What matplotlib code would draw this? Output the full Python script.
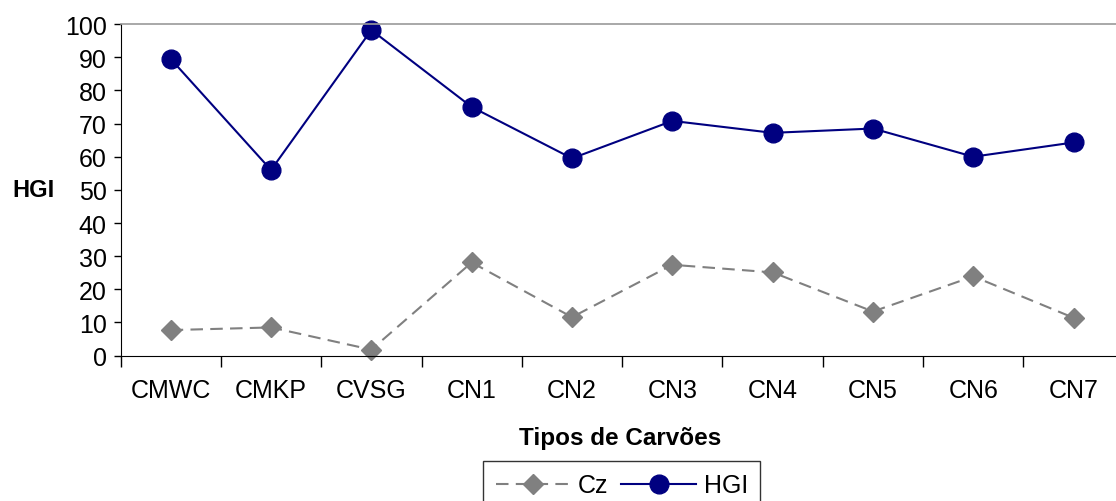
import matplotlib
matplotlib.use('Agg')
import matplotlib.pyplot as plt

# tipos de carvões e valores
carvoes = ['CMWC', 'CMKP', 'CVSG', 'CN1', 'CN2', 'CN3', 'CN4', 'CN5', 'CN6', 'CN7']
cz = [7.7, 8.5, 1.8, 28.1, 11.6, 27.4, 25.1, 13.3, 23.9, 11.4]
hgi = [89.5, 56.0, 98.2, 75.0, 59.5, 70.8, 67.2, 68.5, 60.0, 64.3]

plt.rcParams['font.family'] = ['Liberation Sans', 'DejaVu Sans']

fig = plt.figure(figsize=(11.16, 5.02), dpi=100)
ax = fig.add_axes([0.108, 0.2896, 0.899, 0.6604])

x = list(range(len(carvoes)))
ax.plot(x, cz, color='#808080', linestyle=(0, (6, 3.5)), linewidth=1.5,
        marker='D', markersize=10, label='Cz', clip_on=False)
ax.plot(x, hgi, color='#000080', linestyle='-', linewidth=1.5,
        marker='o', markersize=13.5, label='HGI', clip_on=False)

ax.set_xlim(-0.5, len(carvoes) - 0.5)
ax.set_ylim(0, 100)
ax.set_yticks(range(0, 101, 10))

# traits entre les catégories, étiquettes au centre
ax.set_xticks([i - 0.5 for i in range(len(carvoes) + 1)])
ax.set_xticklabels([])
ax.set_xticks(x, minor=True)
ax.set_xticklabels(carvoes, minor=True)
ax.tick_params(axis='x', which='major', length=8, width=1, direction='out')
ax.tick_params(axis='x', which='minor', length=0, pad=16, labelsize=18)
ax.tick_params(axis='y', length=5, width=1, pad=5, labelsize=18)

ax.spines['top'].set_color('#999999')
ax.spines['top'].set_linewidth(1.2)
ax.spines['right'].set_visible(False)

fig.text(0.03, 0.62, 'HGI', fontsize=17, fontweight='bold', ha='center', va='center')
fig.text(0.556, 0.127, 'Tipos de Carvões', fontsize=17.5, fontweight='bold', ha='center', va='center')

leg = fig.legend(loc='upper left', bbox_to_anchor=(0.4328, 0.0797), ncol=2,
                 fontsize=18, frameon=True, fancybox=False, edgecolor='black',
                 handlelength=3.0, handletextpad=0.3, columnspacing=0.5,
                 borderpad=0.5, borderaxespad=0)
leg.get_frame().set_linewidth(1)

fig.savefig('out.png', dpi=100)
